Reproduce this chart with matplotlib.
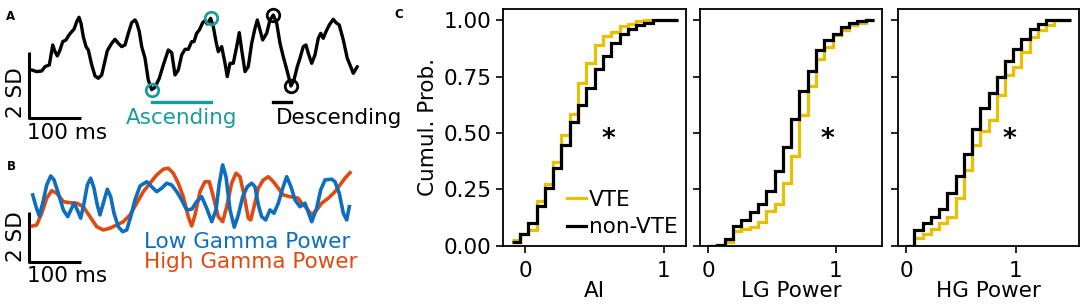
import numpy as np
import matplotlib.pyplot as plt
from matplotlib.lines import Line2D

# ---- panel A: example AI trace (time in ms, amplitude in SD) ----
a_t = [4.6, 14.3, 24.0, 30.4, 38.7, 45.3, 49.7, 54.2, 59.4, 64.6, 71.0, 75.4, 82.0, 86.4,
       91.7, 96.1, 100.0, 104.4, 109.7, 114.1, 120.7, 127.1, 133.4, 140.0, 144.5, 150.9,
       159.4, 165.7, 172.1, 178.7, 185.1, 191.5, 198.0, 204.4, 207.7, 212.7, 217.4, 223.8,
       230.1, 236.7, 243.1, 251.4, 259.2, 268.8, 275.4, 281.8, 288.2, 294.7, 301.1, 307.5,
       314.1, 318.5, 323.7, 328.8, 335.4, 339.8, 344.3, 350.8, 355.9, 361.1, 365.5, 372.1,
       378.5, 382.9, 388.2, 394.5, 401.1, 406.1, 410.8, 417.2, 423.5, 430.1, 436.5, 441.0,
       446.2, 451.4, 459.1, 465.5, 471.9, 478.5, 484.9, 491.2, 499.0, 506.1, 511.9, 518.3,
       523.5, 529.9, 535.1, 539.6, 546.2, 552.5, 558.9, 563.6, 568.6, 573.8, 580.2, 587.9,
       593.2, 599.5, 607.3, 615.0, 621.6, 626.6, 634.4]
a_v = [1.45, 1.40, 1.42, 1.55, 1.60, 2.20, 2.00, 1.87, 2.05, 2.30, 2.35, 2.47, 2.60, 2.67,
       2.90, 3.03, 2.85, 2.45, 2.15, 2.05, 1.60, 1.27, 1.20, 1.30, 1.60, 2.03,
       2.25, 2.37, 2.25, 2.15, 2.20, 2.55, 2.87, 2.95, 2.87, 2.60, 2.15, 1.80,
       1.15, 0.86, 0.93, 1.20, 1.60, 2.05, 1.97, 1.30, 1.45, 1.90, 2.07, 2.07,
       2.30, 2.30, 2.55, 2.65, 2.87, 2.93, 2.83, 3.00, 2.75, 2.30, 2.00, 2.15,
       1.65, 1.25, 1.65, 1.65, 2.15, 2.57, 2.05, 1.40, 1.55, 2.25, 2.70, 2.95,
       2.65, 2.35, 2.55, 2.95, 3.10, 2.85, 2.25, 1.85, 1.40, 0.97, 1.15, 1.55,
       1.80, 2.15, 2.20, 1.95, 1.65, 1.90, 2.40, 2.55, 2.40, 2.60, 2.80, 2.97,
       2.87, 2.80, 2.35, 1.80, 1.55, 1.35, 1.55]
asc_idx = (39, 57)    # trough -> peak
desc_idx = (78, 83)   # peak -> trough

# ---- panel B: gamma power traces (ms, SD) ----
lg_t = [6.6, 13.0, 19.3, 25.9, 33.7, 41.4, 47.8, 56.1, 65.8, 74.3, 82.0, 86.4, 92.8, 99.4,
        105.8, 112.2, 118.7, 125.1, 131.5, 136.7, 143.1, 150.9, 157.4, 163.8, 172.1, 180.6,
        188.4, 196.1, 204.4, 214.1, 227.1, 236.7, 246.4, 256.1, 265.7, 275.4, 285.1, 294.7,
        304.4, 314.1, 323.7, 333.4, 343.1, 352.8, 361.1, 367.5, 374.0, 380.4, 388.2, 396.5,
        404.2, 412.7, 421.6, 430.1, 436.5, 442.9, 449.5, 457.2, 465.5, 473.3, 481.6, 490.1,
        497.8, 506.1, 513.9, 523.5, 533.2, 546.2, 555.8, 563.6, 571.9, 584.8, 591.2, 599.5,
        607.3, 613.9, 618.9]
lg_v = [2.67, 2.20, 1.83, 2.34, 3.07, 3.43, 3.27, 2.74, 2.07, 1.80, 2.14, 2.34, 2.07, 1.74,
        2.34, 3.07, 3.34, 2.94, 2.27, 1.87, 2.34, 2.90, 2.60, 1.94, 1.40, 1.20,
        1.27, 1.80, 2.47, 3.03, 3.20, 3.00, 2.80, 2.94, 3.14, 3.07, 2.80, 2.47,
        2.07, 2.10, 2.40, 2.60, 2.14, 1.60, 2.07, 3.14, 3.87, 3.40, 2.07, 1.38,
        1.87, 2.60, 3.00, 3.14, 3.00, 2.27, 1.80, 1.67, 2.07, 1.94, 2.34, 2.94,
        3.40, 3.00, 2.47, 2.20, 2.34, 1.60, 2.14, 2.87, 3.27, 3.30, 3.20, 2.74,
        1.94, 1.67, 2.20]
hg_t = [6.6, 14.3, 24.0, 33.7, 43.3, 53.0, 65.8, 78.7, 91.7, 104.4, 117.4, 130.4, 143.1,
        156.1, 169.0, 181.8, 194.8, 207.7, 220.5, 233.4, 246.4, 259.2, 268.8, 278.5, 288.2,
        297.8, 307.5, 314.1, 320.5, 330.1, 339.8, 348.1, 355.9, 365.5, 374.0, 381.8, 391.4,
        399.8, 407.5, 415.3, 423.6, 428.3, 434.6, 442.9, 452.6, 462.3, 472.0, 481.6, 491.2,
        504.2, 520.2, 526.8, 536.5, 546.2, 555.8, 565.5, 578.3, 591.2, 600.9, 610.6, 620.3]
hg_v = [1.43, 1.47, 1.94, 2.54, 2.84, 2.74, 2.40, 2.36, 2.34, 2.20, 1.80, 1.40, 1.27,
        1.34, 1.47, 1.60, 1.87, 2.34, 2.80, 3.14, 3.47, 3.70, 3.74, 3.54, 3.14,
        2.60, 1.80, 1.43, 1.87, 2.80, 3.20, 3.20, 2.60, 1.80, 1.60, 2.20, 3.14,
        3.54, 3.40, 2.67, 1.74, 1.67, 2.20, 2.94, 3.27, 3.40, 3.20, 2.94, 2.67,
        2.60, 2.54, 2.34, 2.14, 1.87, 2.07, 2.34, 2.54, 2.80, 3.07, 3.34, 3.56]

# ---- panel C: cumulative distributions (20 bins each) ----
c_xlabels = ["AI", "LG Power", "HG Power"]
c_ranges = [(-0.1, 1.1), (0.0, 1.3), (0.0, 1.5)]
c_vte = [
    [0.025, 0.05, 0.07, 0.20, 0.275, 0.37, 0.49, 0.585, 0.72, 0.81,
     0.89, 0.93, 0.95, 0.975, 0.985, 0.995, 1.0, 1.0, 1.0, 1.0],
    [0.0, 0.0, 0.015, 0.065, 0.074, 0.084, 0.103, 0.154, 0.183, 0.276,
     0.399, 0.582, 0.709, 0.827, 0.882, 0.934, 0.956, 0.978, 0.99, 1.0],
    [0.0, 0.032, 0.050, 0.074, 0.099, 0.128, 0.210, 0.335, 0.446, 0.508,
     0.557, 0.668, 0.756, 0.793, 0.860, 0.927, 0.956, 0.978, 1.0, 1.0],
]
c_non = [
    [0.018, 0.05, 0.10, 0.176, 0.257, 0.346, 0.446, 0.549, 0.625, 0.70,
     0.784, 0.84, 0.90, 0.94, 0.96, 0.98, 0.99, 1.0, 1.0, 1.0],
    [0.0, 0.004, 0.028, 0.089, 0.114, 0.15, 0.183, 0.242, 0.332, 0.436,
     0.56, 0.687, 0.774, 0.867, 0.914, 0.94, 0.969, 0.988, 0.996, 1.0],
    [0.0, 0.069, 0.099, 0.128, 0.165, 0.232, 0.309, 0.405, 0.517, 0.609,
     0.678, 0.749, 0.818, 0.871, 0.919, 0.960, 0.985, 1.0, 1.0, 1.0],
]
star_x = [0.6, 0.935, 0.945]

TEAL = "#1a9c9e"
BLUE = "#0d6ebf"
ORANGE = "#de4b12"
YELLOW = "#e8c000"
FS = 15.5

plt.rcParams["font.family"] = "DejaVu Sans"
W, H = 1084, 305
fig = plt.figure(figsize=(W / 100, H / 100), dpi=100)


def px_axes(x0, y0, x1, y1):
    return fig.add_axes([x0 / W, 1 - y1 / H, (x1 - x0) / W, (y1 - y0) / H])


# ---- A ----
axA = px_axes(0, 0, 380, 150)
axA.set_xlim(-56.7, 678.3)
axA.set_ylim(-0.951, 3.549)
axA.axis("off")
axA.plot(a_t, a_v, color="black", lw=2.4, solid_capstyle="round", solid_joinstyle="round")
for idx, col in ((asc_idx, TEAL), (desc_idx, "black")):
    axA.plot([a_t[i] for i in idx], [a_v[i] for i in idx], "o", ms=9, mfc="none",
             mec=col, mew=2.0)
axA.plot([a_t[asc_idx[0]], a_t[asc_idx[1]]], [0.5, 0.5], color=TEAL, lw=2.4)
axA.plot([a_t[desc_idx[0]], a_t[desc_idx[1]]], [0.5, 0.5], color="black", lw=2.4)
axA.text((a_t[asc_idx[0]] + a_t[asc_idx[1]]) / 2, 0.0, "Ascending", color=TEAL,
         fontsize=FS, ha="center", va="center")
axA.text(a_t[desc_idx[0]] + 5, 0.0, "Descending", color="black",
         fontsize=FS, ha="left", va="center", clip_on=False)
axA.plot([0, 0, 100], [2, 0, 0], color="black", lw=2.2, solid_capstyle="butt")
axA.text(-26, 0, "2 SD", rotation=90, fontsize=FS, ha="center", va="bottom")
axA.text(-4, -0.43, "100 ms", fontsize=FS, ha="left", va="center")

# ---- B ----
axB = px_axes(0, 150, 380, 305)
axB.set_xlim(-56.7, 678.3)
axB.set_ylim(-1.732, 4.468)
axB.axis("off")
axB.plot(hg_t, hg_v, color=ORANGE, lw=2.6, solid_joinstyle="round")
axB.plot(lg_t, lg_v, color=BLUE, lw=2.6, solid_joinstyle="round")
axB.plot([0, 0, 100], [2, 0, 0], color="black", lw=2.2, solid_capstyle="butt")
axB.text(-26, 0, "2 SD", rotation=90, fontsize=FS, ha="center", va="bottom")
axB.text(-5, -0.57, "100 ms", fontsize=FS, ha="left", va="center")
axB.text(222, 0.8, "Low Gamma Power", color=BLUE, fontsize=FS, ha="left", va="center")
axB.text(222, 0.0, "High Gamma Power", color=ORANGE, fontsize=FS, ha="left", va="center")

# ---- C ----
c_boxes = [(503.3, 686), (700, 882.3), (898, 1079)]
for k in range(3):
    x0, x1 = c_boxes[k]
    ax = px_axes(x0, 9, x1, 245.7)
    edges = np.linspace(c_ranges[k][0], c_ranges[k][1], len(c_vte[k]) + 1)
    ax.stairs(c_vte[k], edges, baseline=None, color=YELLOW, lw=2.3, label="VTE")
    ax.stairs(c_non[k], edges, baseline=None, color="black", lw=2.3, label="non-VTE")
    ax.margins(x=0.05)
    ax.set_ylim(0, 1.05)
    ax.set_yticks([0, 0.25, 0.5, 0.75, 1.0])
    ax.set_xticks([0, 1])
    ax.tick_params(labelsize=FS, length=5, width=1.2)
    ax.tick_params(axis="x", pad=6)
    for s in ax.spines.values():
        s.set_linewidth(1.3)
    ax.set_xlabel(c_xlabels[k], fontsize=FS, labelpad=0)
    ax.text(star_x[k], 0.47, "*", fontsize=19, fontweight="bold", ha="center", va="center")
    if k == 0:
        ax.set_yticklabels(["0.00", "0.25", "0.50", "0.75", "1.00"])
        ax.set_ylabel("Cumul. Prob.", fontsize=FS, labelpad=4)
        handles = [Line2D([], [], color=YELLOW, lw=2.3), Line2D([], [], color="black", lw=2.3)]
        ax.legend(handles, ["VTE", "non-VTE"], loc="lower right", frameon=False,
                  fontsize=FS, handlelength=0.85, handletextpad=0.15,
                  borderaxespad=0.2, borderpad=0.2, labelspacing=0.35)
    else:
        ax.set_yticklabels([])

fig.text(11 / W, 1 - 16 / H, "A", fontsize=8.5, fontweight="bold", ha="center", va="center")
fig.text(11.7 / W, 1 - 166 / H, "B", fontsize=8.5, fontweight="bold", ha="center", va="center")
fig.text(399 / W, 1 - 14 / H, "C", fontsize=8.5, fontweight="bold", ha="center", va="center")

fig.savefig("out.png", dpi=100)
